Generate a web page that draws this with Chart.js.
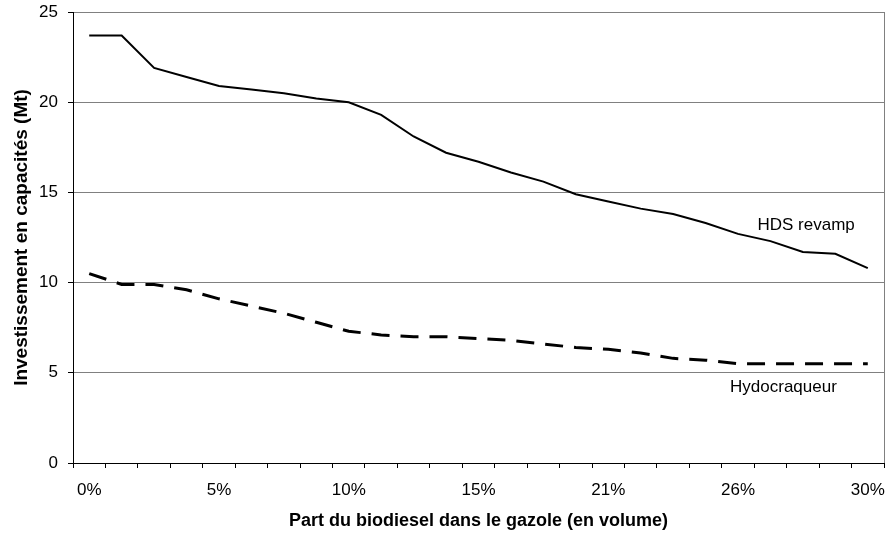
<!DOCTYPE html>
<html>
<head>
<meta charset="utf-8">
<script src="https://cdn.jsdelivr.net/npm/chart.js@4"></script>
<style>
    html, body { margin: 0; padding: 0; background: #fff; }
    #wrap { width: 889px; height: 536px; }
</style>
</head>
<body>
<div id="wrap"><canvas id="capaChart"></canvas></div>
<script>
// Tick labels (25 categories, one label every 4th)
const xLabels = ['0%', '', '', '', '5%', '', '', '', '10%', '', '', '', '15%', '', '', '',
    '21%', '', '', '', '26%', '', '', '', '30%'];

// Series values (Mt)
const hdsRevamp = [23.7, 23.7, 21.9, 21.4, 20.9, 20.7, 20.5, 20.2, 20.0, 19.3, 18.1, 17.2,
    16.7, 16.1, 15.6, 14.9, 14.5, 14.1, 13.8, 13.3, 12.7, 12.3, 11.7, 11.6, 10.8];
const hydrocraqueur = [10.5, 9.9, 9.9, 9.6, 9.1, 8.7, 8.3, 7.8, 7.3, 7.1, 7.0, 7.0,
    6.9, 6.8, 6.6, 6.4, 6.3, 6.1, 5.8, 5.7, 5.5, 5.5, 5.5, 5.5, 5.5];

const FONT = "'Liberation Sans', Arial, sans-serif";

// Right border of plot area + series labels
const extrasPlugin = {
    id: 'extras',
    afterDraw(chart) {
        const { ctx, chartArea, scales } = chart;
        ctx.save();
        ctx.strokeStyle = '#808080';
        ctx.lineWidth = 1;
        ctx.beginPath();
        ctx.moveTo(Math.round(chartArea.right) + 0.5, chartArea.top);
        ctx.lineTo(Math.round(chartArea.right) + 0.5, chartArea.bottom);
        ctx.stroke();

        ctx.fillStyle = '#000';
        ctx.font = '17px ' + FONT;
        ctx.textAlign = 'center';
        ctx.textBaseline = 'middle';
        ctx.fillText('HDS revamp', scales.x.getPixelForValue(22.1), scales.y.getPixelForValue(13.15));
        ctx.fillText('Hydocraqueur', scales.x.getPixelForValue(21.4), scales.y.getPixelForValue(4.17));
        ctx.restore();
    }
};

new Chart(document.getElementById('capaChart'), {
    type: 'line',
    data: {
        labels: xLabels,
        datasets: [
            {
                label: 'HDS revamp',
                data: hdsRevamp,
                borderColor: '#000',
                borderWidth: 2,
                pointRadius: 0,
                tension: 0,
                fill: false
            },
            {
                label: 'Hydocraqueur',
                data: hydrocraqueur,
                borderColor: '#000',
                borderWidth: 3,
                borderDash: [18, 11],
                pointRadius: 0,
                tension: 0,
                fill: false
            }
        ]
    },
    options: {
        responsive: true,
        maintainAspectRatio: false,
        animation: false,
        layout: { padding: { top: 12, right: 5, left: 0, bottom: 0 } },
        plugins: {
            legend: { display: false },
            tooltip: { enabled: false }
        },
        scales: {
            x: {
                type: 'category',
                offset: true,
                afterFit: (scale) => {
                    scale.height = 73;
                    scale.paddingLeft = 0;
                    scale.paddingRight = 0;
                },
                grid: {
                    offset: true,
                    drawOnChartArea: false,
                    drawTicks: true,
                    tickLength: 5,
                    tickColor: '#000'
                },
                border: { color: '#000', width: 1 },
                ticks: {
                    autoSkip: false,
                    maxRotation: 0,
                    padding: 12,
                    color: '#000',
                    font: { family: FONT, size: 17 }
                },
                title: {
                    display: true,
                    text: 'Part du biodiesel dans le gazole (en volume)',
                    color: '#000',
                    font: { family: FONT, size: 18, weight: 'bold' },
                    padding: { top: 0, bottom: 4 }
                }
            },
            y: {
                min: 0,
                max: 25,
                afterFit: (scale) => {
                    scale.width = 73;
                    scale.paddingTop = 0;
                    scale.paddingBottom = 0;
                },
                grid: {
                    color: '#808080',
                    tickColor: '#000',
                    tickLength: 5
                },
                border: { color: '#000', width: 1 },
                ticks: {
                    stepSize: 5,
                    padding: 10,
                    color: '#000',
                    font: { family: FONT, size: 17 }
                },
                title: {
                    display: true,
                    text: 'Investissement en capacités (Mt)',
                    color: '#000',
                    font: { family: FONT, size: 19, weight: 'bold' },
                    padding: { top: 10, bottom: 0 }
                }
            }
        }
    },
    plugins: [extrasPlugin]
});
</script>
</body>
</html>
